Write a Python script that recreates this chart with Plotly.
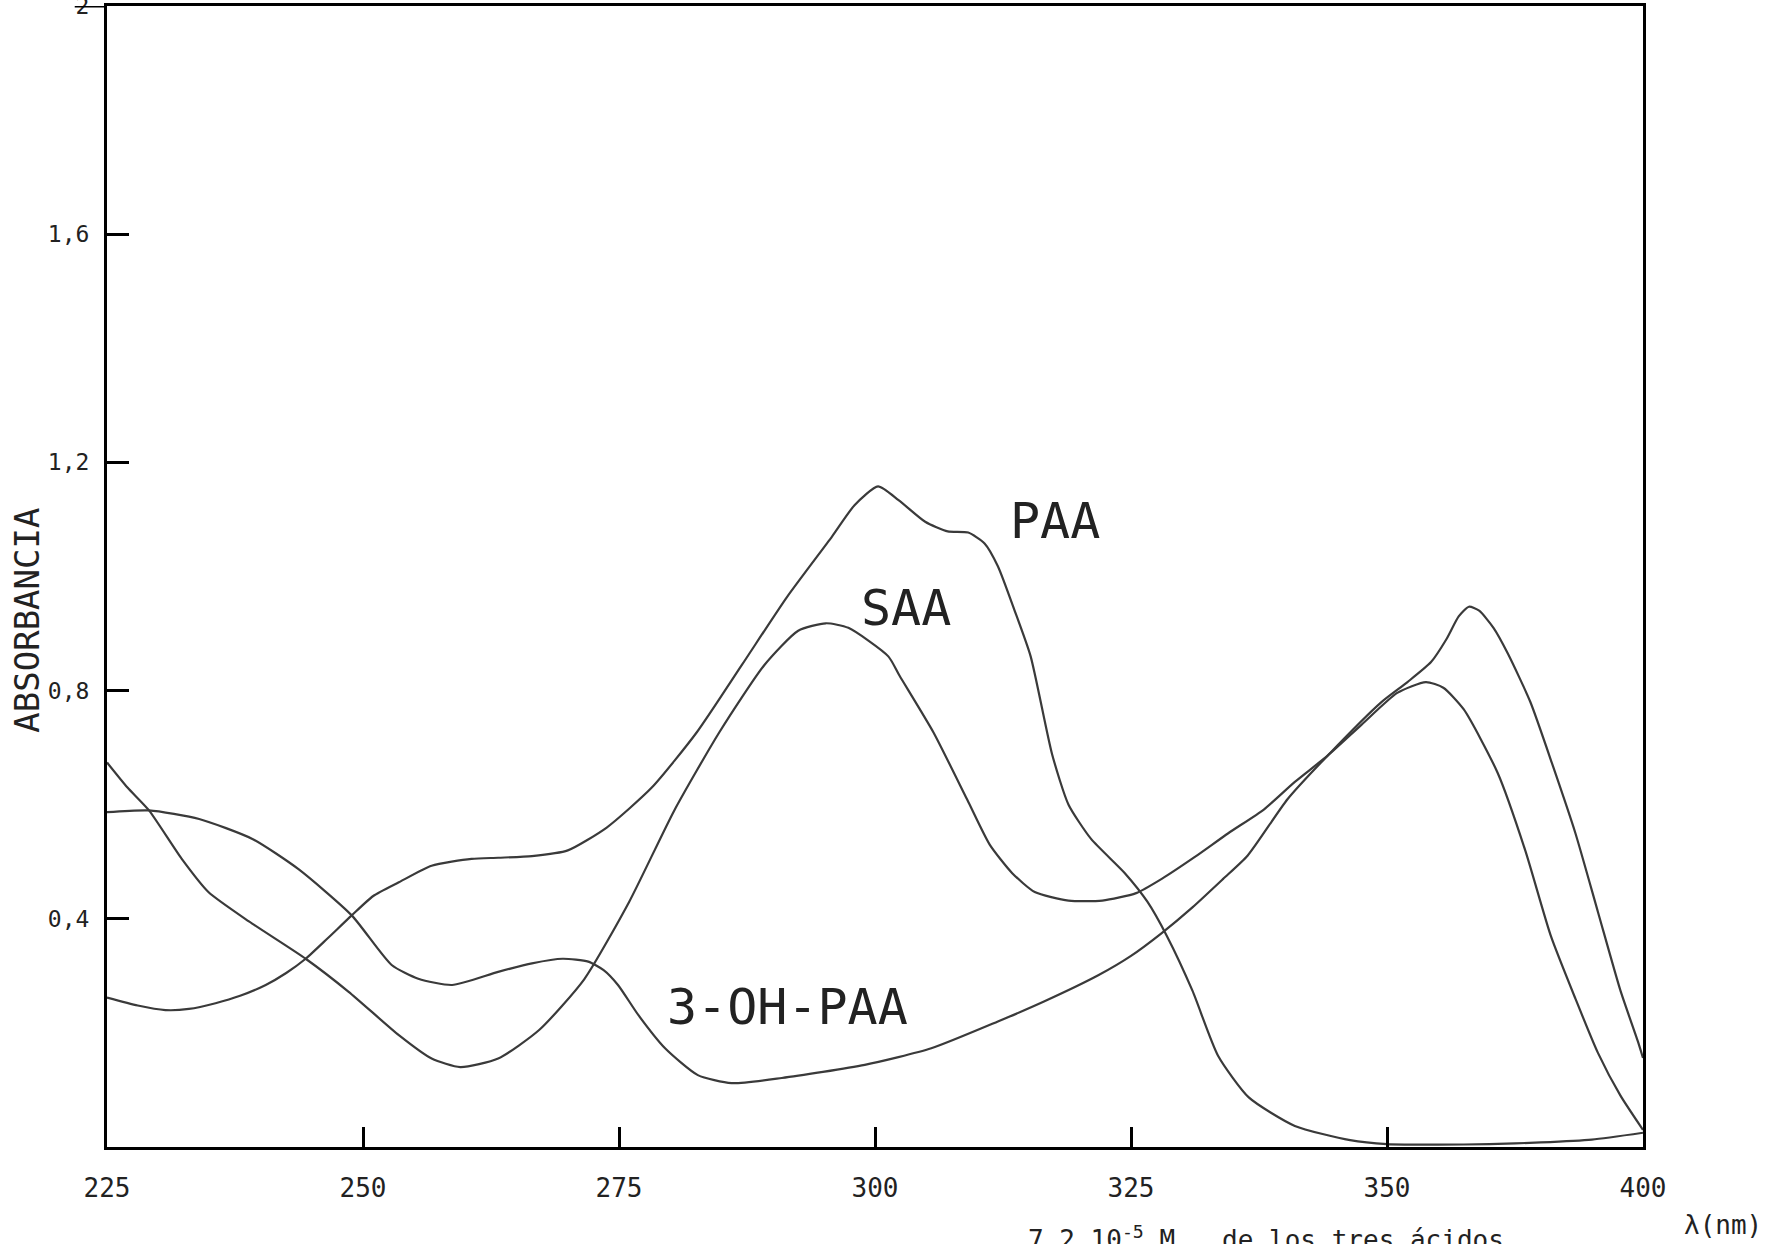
import plotly.graph_objects as go

# ---- data (x in axis units: the right-most tick is labelled "400") ----
paa_x = [225, 228, 230.7, 233, 235.6, 238, 240.5, 242.5, 244.4, 246.5, 248.9, 251, 253.5, 256.7,
         260.6, 263.2, 266.5, 270, 273.8, 278.2, 282.6, 287, 291.4, 295.8, 298, 300.3, 302.3,
         304.9, 307.1, 309.1, 310.7, 312, 313.6, 315.2, 317.3, 318.9, 321.1, 324.4, 326.6, 328.5,
         331, 333.5, 336.5, 341, 346.4, 350, 355, 360, 365, 370, 375]
paa_y = [0.262, 0.248, 0.24, 0.242, 0.252, 0.265, 0.284, 0.305, 0.33, 0.365, 0.406, 0.44, 0.464,
         0.493, 0.505, 0.507, 0.51, 0.52, 0.56, 0.63, 0.727, 0.845, 0.964, 1.07, 1.125, 1.158,
         1.134, 1.096, 1.079, 1.077, 1.058, 1.018, 0.942, 0.86, 0.688, 0.6, 0.54, 0.48, 0.43,
         0.37, 0.274, 0.16, 0.087, 0.037, 0.012, 0.005, 0.004, 0.005, 0.008, 0.013, 0.025]

saa_x = [225, 227, 229.1, 232.3, 234.9, 238.9, 244.4, 248.6, 253.5, 256.7, 259.5, 263.2, 267.2,
         271.6, 276, 280.4, 284.8, 289.2, 292.5, 295.2, 297.4, 301.3, 302.4, 305.7, 309, 311.2,
         313.4, 315.6, 318.9, 322.2, 325.5, 328, 331.2, 334.5, 338, 341, 344.2, 347.5, 351,
         353.8, 355.5, 357.5, 360.8, 363.5, 366, 368.4, 370.6, 372.8, 375]
saa_y = [0.674, 0.63, 0.59, 0.505, 0.447, 0.395, 0.33, 0.272, 0.196, 0.155, 0.14, 0.155, 0.205,
         0.294, 0.43, 0.59, 0.727, 0.845, 0.905, 0.918, 0.91, 0.86, 0.826, 0.727, 0.609, 0.53,
         0.48, 0.447, 0.432, 0.432, 0.445, 0.47, 0.508, 0.55, 0.592, 0.64, 0.686, 0.74, 0.796,
         0.815, 0.805, 0.767, 0.656, 0.52, 0.37, 0.26, 0.165, 0.09, 0.03]

oh_x = [225, 229.1, 234, 239.2, 243.7, 248.9, 252.8, 255.4, 258.7, 263.2, 266.5, 269.5, 272,
        273.5, 274.9, 276.9, 279.5, 282.7, 286, 290.9, 299, 305.5, 312, 316.5, 321.8, 325, 328,
        331, 334, 336.4, 340.3, 344.2, 349.4, 352, 354.3, 355.8, 357, 358, 359, 360.4, 361.8,
        364, 366.2, 368.4, 370.6, 372.8, 374.5, 375]
oh_y = [0.587, 0.59, 0.575, 0.54, 0.487, 0.406, 0.319, 0.295, 0.284, 0.307, 0.322, 0.33, 0.325,
        0.31, 0.284, 0.231, 0.173, 0.126, 0.112, 0.121, 0.144, 0.173, 0.22, 0.255, 0.301, 0.335,
        0.375, 0.42, 0.47, 0.511, 0.61, 0.686, 0.779, 0.815, 0.85, 0.89, 0.93, 0.947, 0.94,
        0.91, 0.865, 0.78, 0.668, 0.55, 0.412, 0.274, 0.185, 0.156]

x_tickvals = [225, 250, 275, 300, 325, 350, 375]
x_ticktext = ["225", "250", "275", "300", "325", "350", "400"]
y_tickvals = [0.4, 0.8, 1.2, 1.6, 2.0]
y_ticktext = ["0,4", "0,8", "1,2", "1,6", "2"]

curve_labels = ["PAA", "SAA", "3-OH-PAA"]
label_x = [317.6, 303.0, 291.5]
label_y = [1.097, 0.945, 0.246]

MONO = "DejaVu Sans Mono"
LINE = "#3a3a3a"

fig = go.Figure()
for xs, ys, nm in [(paa_x, paa_y, "PAA"), (saa_x, saa_y, "SAA"), (oh_x, oh_y, "3-OH-PAA")]:
    fig.add_trace(go.Scatter(x=xs, y=ys, mode="lines", name=nm,
                             line=dict(color=LINE, width=2.2, shape="spline", smoothing=0.6),
                             hoverinfo="skip"))

for t, lx, ly in zip(curve_labels, label_x, label_y):
    fig.add_annotation(x=lx, y=ly, xref="x", yref="y", text=t, showarrow=False,
                       font=dict(family=MONO, size=50, color="#222"))

fig.add_annotation(x=-0.0665, y=0.462, xref="paper", yref="paper", text="ABSORBANCIA",
                   textangle=-90, showarrow=False, font=dict(family=MONO, size=34, color="#222"))
fig.add_annotation(x=1.0785, y=-0.083, xref="paper", yref="paper", xanchor="right",
                   text="λ(nm)", showarrow=False,
                   font=dict(family=MONO, size=26, color="#222"))
fig.add_annotation(x=0.598, y=-0.096, xref="paper", yref="paper", xanchor="left",
                   text="7,2.10<sup>-5</sup> M , de los tres ácidos",
                   showarrow=False, font=dict(family=MONO, size=26, color="#222"))

# extension of the top tick at 2
fig.add_shape(type="line", xref="paper", yref="y", x0=-0.021, x1=0, y0=2, y1=2,
              line=dict(color="black", width=3))

fig.update_xaxes(range=[225, 375], tickvals=x_tickvals, ticktext=x_ticktext,
                 ticks="inside", ticklen=20, tickwidth=2.5, tickcolor="black",
                 showline=True, linewidth=3, linecolor="black", mirror=True,
                 showgrid=False, zeroline=False, ticklabelstandoff=16,
                 ticklabeloverflow="allow", automargin=False,
                 tickfont=dict(family=MONO, size=26, color="#222"))
fig.update_yaxes(range=[0, 2], tickvals=y_tickvals, ticktext=y_ticktext,
                 ticks="inside", ticklen=22, tickwidth=3, tickcolor="black",
                 showline=True, linewidth=3, linecolor="black", mirror=True,
                 showgrid=False, zeroline=False, ticklabelstandoff=10,
                 ticklabeloverflow="allow", automargin=False,
                 tickfont=dict(family=MONO, size=23, color="#222"))

fig.update_layout(width=1768, height=1244, showlegend=False,
                  paper_bgcolor="white", plot_bgcolor="white",
                  margin=dict(l=107, r=125, t=6, b=97))

fig.write_html("out.html")
